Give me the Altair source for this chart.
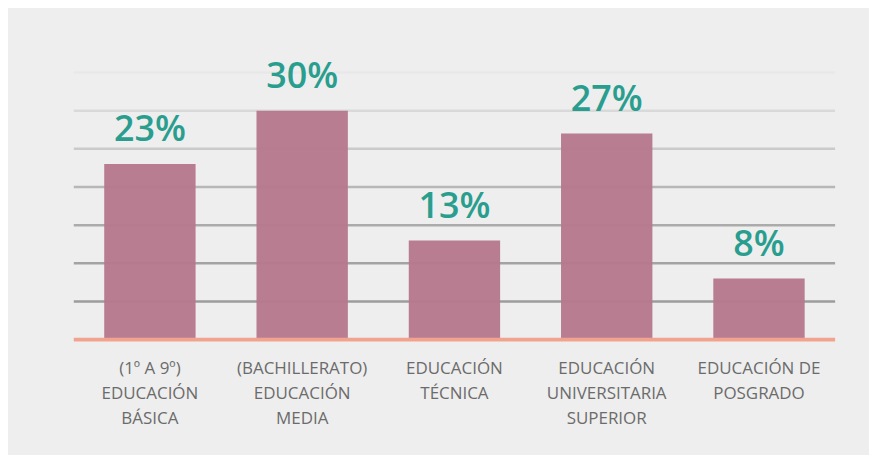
import altair as alt
import pandas as pd

categories = [
    "(1º A 9º)|EDUCACIÓN|BÁSICA",
    "(BACHILLERATO)|EDUCACIÓN|MEDIA",
    "EDUCACIÓN|TÉCNICA",
    "EDUCACIÓN|UNIVERSITARIA|SUPERIOR",
    "EDUCACIÓN DE|POSGRADO",
]
values = [23, 30, 13, 27, 8]
value_labels = ["23%", "30%", "13%", "27%", "8%"]

grid_values = [5, 10, 15, 20, 25, 30, 35]
grid_colors = ["#9c9c9c", "#a3a3a3", "#ababab", "#b7b7b7", "#cacaca", "#d9d9d9", "#e8e8e8"]

df = pd.DataFrame({"cat": categories, "val": values, "lab": value_labels})
grid = pd.DataFrame({"g": grid_values, "c": grid_colors})

xenc = alt.X(
    "cat:N",
    sort=None,
    scale=alt.Scale(paddingInner=0.4, paddingOuter=0.2),
    axis=alt.Axis(
        title=None,
        labelExpr="split(datum.label, '|')",
        labelAngle=0,
        labelFontSize=17,
        labelFont="Open Sans",
        labelColor="#6b6b6b",
        labelLineHeight=25,
        labelBaseline="top",
        labelPadding=21,
        labelLimit=0,
        labelOverlap=False,
        ticks=False,
        domain=False,
        grid=False,
    ),
)
yscale = alt.Scale(domain=[0, 35], nice=False, zero=True)

gridlines = alt.Chart(grid).mark_rule(strokeWidth=2.5).encode(
    y=alt.Y("g:Q", scale=yscale, axis=None),
    color=alt.Color("c:N", scale=None),
)

bars = alt.Chart(df).mark_bar(color="#b6798d", opacity=0.97).encode(
    x=xenc,
    y=alt.Y("val:Q", scale=yscale, axis=None),
)

labels = alt.Chart(df).mark_text(
    dy=-23,
    baseline="alphabetic",
    fontSize=36,
    font="Open Sans",
    fontWeight=600,
    color="#2a9e8e",
).encode(
    x=alt.X("cat:N", sort=None),
    y=alt.Y("val:Q", scale=yscale),
    text="lab:N",
)

baseline = alt.Chart(pd.DataFrame({"z": [0]})).mark_rule(
    color="#f2a38f", strokeWidth=4
).encode(y=alt.Y("z:Q", scale=yscale))

chart = (
    alt.layer(gridlines, bars, baseline, labels)
    .properties(
        width=764,
        height=268,
        autosize="none",
        padding={"left": 66, "top": 64, "right": 34, "bottom": 115},
        background="#eeeeee",
    )
    .configure_view(stroke=None)
)

chart.save("out.html", embed_options={"renderer": "svg", "actions": False})
